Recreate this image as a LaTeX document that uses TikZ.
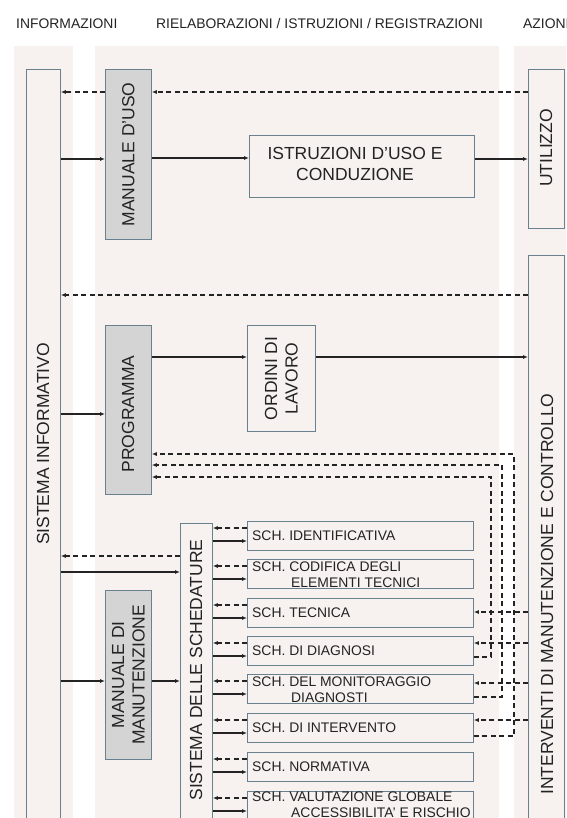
\documentclass[tikz,border=0pt]{standalone}
\usepackage{fontspec}
\setmainfont{Liberation Sans}
\usetikzlibrary{arrows.meta, positioning, calc}

\definecolor{bandcol}{RGB}{247,241,240}
\definecolor{boxline}{RGB}{105,128,142}
\definecolor{boxgray}{RGB}{212,212,212}
\definecolor{inkcol}{RGB}{35,35,35}

\tikzset{
  box/.style={draw=boxline, line width=0.8pt, inner sep=0pt, anchor=north west},
  graybox/.style={box, fill=boxgray},
  solidarr/.style={->, line width=1.3pt, draw=inkcol},
  dasharr/.style={->, line width=1.1pt, draw=inkcol, dash pattern=on 5pt off 3.5pt},
  big/.style={font=\fontsize{17.5}{20.5}\selectfont, text=inkcol, align=center, inner sep=0pt},
  small/.style={font=\fontsize{13.9}{15.5}\selectfont, text=inkcol, align=left, inner sep=0pt, anchor=north west},
  head/.style={font=\fontsize{13.9}{16}\selectfont, text=inkcol, inner sep=0pt, anchor=west}
}

\begin{document}
\begin{tikzpicture}[x=1pt, y=-1pt, >={Latex[length=5pt,width=4pt]}]
\useasboundingbox (0,0) rectangle (566,818);

% fasce di sfondo
\fill[bandcol] (14,46) rectangle (73,818);
\fill[bandcol] (95,46) rectangle (499,818);
\fill[bandcol] (514,46) rectangle (566,818);

% intestazioni
\node[head] (hinfo) at (16,24) {INFORMAZIONI};
\node[head] (hriel) at (156,24) {RIELABORAZIONI / ISTRUZIONI / REGISTRAZIONI};
\node[head] (hazi) at (523,24) {AZIONI};

% informazioni
\node[box, minimum width=34pt, minimum height=770pt] (sist) at (26,69) {};
\node[big, rotate=90] (sistT) at (43,444) {SISTEMA INFORMATIVO};

% azioni
\node[box, minimum width=36pt, minimum height=159pt] (util) at (528,69) {};
\node[big, rotate=90] (utilT) at (546,148) {UTILIZZO};
\node[box, minimum width=36pt, minimum height=580pt] (interv) at (528,255) {};
\node[big, rotate=90] (intervT) at (547,594) {INTERVENTI DI MANUTENZIONE E CONTROLLO};

% rielaborazioni
\node[graybox, minimum width=46pt, minimum height=170pt] (uso) at (105,69) {};
\node[big, rotate=90] (usoT) at (uso.center) {MANUALE D'USO};
\node[box, minimum width=225pt, minimum height=62pt] (istr) at (249,135) {};
\node[big] (istrT) at (355,164) {ISTRUZIONI D'USO E\\CONDUZIONE};
\node[graybox, minimum width=46pt, minimum height=169pt] (prog) at (105,325) {};
\node[big, rotate=90] (progT) at (128,414) {PROGRAMMA};
\node[box, minimum width=68pt, minimum height=106pt] (ordini) at (247,325) {};
\node[big, rotate=90] (ordiniT) at (ordini.center) {ORDINI DI\\LAVORO};
\node[graybox, minimum width=46pt, minimum height=169pt] (mman) at (105,590) {};
\node[big, rotate=90] (mmanT) at (mman.center) {MANUALE DI\\MANUTENZIONE};
\node[box, minimum width=32pt, minimum height=310pt] (sched) at (180,523) {};
\node[big, rotate=90] (schedT) at (196,670) {SISTEMA DELLE SCHEDATURE};

% schede
\foreach \n/\top/\dy/\txt in {
  1/521/10/{SCH. IDENTIFICATIVA},
  2/559/3/{SCH. CODIFICA DEGLI\\\hspace*{39pt}ELEMENTI TECNICI},
  3/598/10/{SCH. TECNICA},
  4/636/10/{SCH. DI DIAGNOSI},
  5/674/3/{SCH. DEL MONITORAGGIO\\\hspace*{39pt}DIAGNOSTI},
  6/713/10/{SCH. DI INTERVENTO},
  7/752/10/{SCH. NORMATIVA},
  8/791/1/{SCH. VALUTAZIONE GLOBALE\\\hspace*{39pt}ACCESSIBILITA' E RISCHIO}} {
  \node[box, minimum width=226pt, minimum height=29pt] (sch\n) at (247,\top) {};
  \node[small] (sch\n T) at (252,\top+\dy) {\txt};
  \draw[dasharr] (sch\n.west |- 0,\top+7) -- (sched.east |- 0,\top+7);
  \draw[solidarr] (sched.east |- 0,\top+20) -- (sch\n.west |- 0,\top+20);
}

% flussi
\draw[dasharr] (util.west |- 0,92) -- (uso.east |- 0,92);
\draw[dasharr] (uso.west |- 0,92) -- (sist.east |- 0,92);
\draw[solidarr] (sist.east |- 0,159) -- (uso.west |- 0,159);
\draw[solidarr] (uso.east |- 0,158) -- (istr.west |- 0,158);
\draw[solidarr] (istr.east |- 0,159) -- (util.west |- 0,159);
\draw[dasharr] (interv.west |- 0,295) -- (sist.east |- 0,295);
\draw[solidarr] (sist.east |- 0,414) -- (prog.west |- 0,414);
\draw[solidarr] (prog.east |- 0,357) -- (ordini.west |- 0,357);
\draw[solidarr] (ordini.east |- 0,357) -- (interv.west |- 0,357);
\draw[dasharr] (sched.west |- 0,556) -- (sist.east |- 0,556);
\draw[solidarr] (sist.east |- 0,572) -- (sched.west |- 0,572);
\draw[solidarr] (sist.east |- 0,681) -- (mman.west |- 0,681);
\draw[solidarr] (mman.east |- 0,681) -- (sched.west |- 0,681);

% ritorni al programma
\draw[dasharr] (sch4.east |- 0,657) -| (491,477) -- (prog.east |- 0,477);
\draw[dasharr] (sch5.east |- 0,697) -| (502,465) -- (prog.east |- 0,465);
\draw[dasharr] (sch6.east |- 0,736) -| (514,454) -- (prog.east |- 0,454);
\foreach \n/\yy in {3/612, 4/643, 5/683, 6/720}
  \draw[dasharr] (interv.west |- 0,\yy) -- (sch\n.east |- 0,\yy);

\end{tikzpicture}
\end{document}
